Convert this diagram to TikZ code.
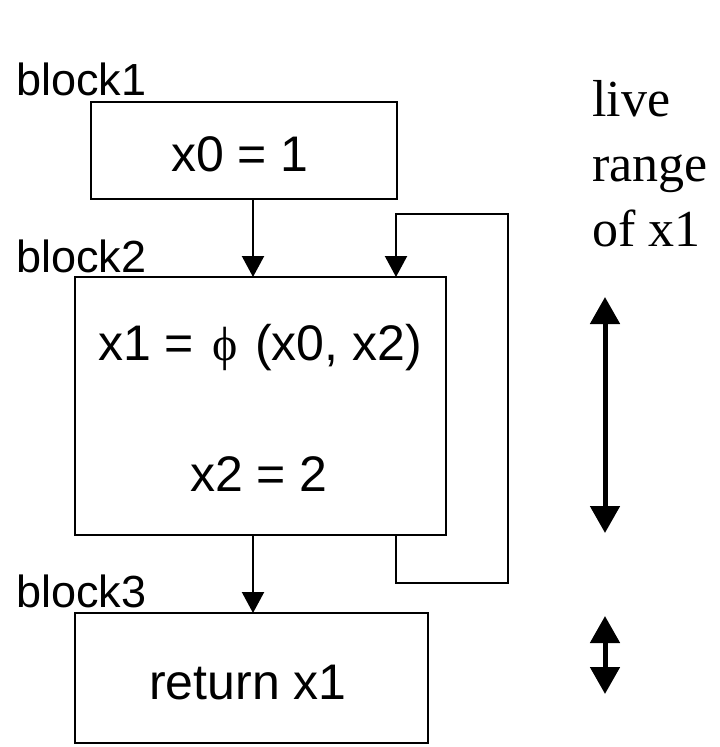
\documentclass[tikz,border=0pt]{standalone}
\usepackage{fontspec}
\setmainfont{Liberation Sans}
\newfontfamily\timesfont{Liberation Serif}
\usetikzlibrary{arrows.meta}
\begin{document}
\begin{tikzpicture}[x=1pt,y=-1pt,
  box/.style={draw, line width=2.2pt, inner sep=0pt, outer sep=0pt},
  lbl/.style={font=\fontsize{45}{50}\selectfont, inner sep=0pt, anchor=base west},
  code/.style={font=\fontsize{50}{56}\selectfont, inner sep=0pt, anchor=base},
  note/.style={font=\timesfont\fontsize{52}{65}\selectfont, inner sep=0pt, anchor=base west},
  flow/.style={line width=2.2pt, -{Triangle[width=22pt,length=21pt]}},
  livearrow/.style={line width=5pt, {Triangle[width=29pt,length=27pt]}-{Triangle[width=29pt,length=27pt]}}]
\useasboundingbox (0,0) rectangle (720,747);
% blocks
\node[box, minimum width=306pt, minimum height=97pt] (b1) at (244,150.5) {};
\node[box, minimum width=371pt, minimum height=258pt] (b2) at (260.5,406) {};
\node[box, minimum width=353pt, minimum height=130pt] (b3) at (251.5,678) {};
% block texts
\node[code] (t1) at (240,171) {x0 = 1};
\node[code] (t2) at (260,360) {x1 =\ \hspace{5pt}{\timesfont\fontsize{48}{50}\selectfont ϕ}\ \hspace{3pt}(x0, x2)};
\node[code] (t3) at (259,491) {x2 = 2};
\node[code] (t4) at (248,699) {return x1};
% labels
\node[lbl] (l1) at (16,95) {block1};
\node[lbl] (l2) at (16,272) {block2};
\node[lbl] (l3) at (16,607) {block3};
\node[note] (n1) at (592,116) {live};
\node[note] (n2) at (592,181) {range};
\node[note] (n3) at (592,246) {of x1};
% connectors
\coordinate (ax) at (253,0);
\coordinate (lx) at (396,0);
\draw[flow] (b1.south -| ax) -- (b2.north -| ax);
\draw[flow] (b2.south -| ax) -- (b3.north -| ax);
\coordinate (lp1) at (396,583);
\coordinate (lp2) at (508,583);
\coordinate (lp3) at (508,214);
\coordinate (lp4) at (396,214);
\draw[flow] (b2.south -| lx) -- (lp1) -- (lp2) -- (lp3) -- (lp4) -- (b2.north -| lx);
% live range arrows
\coordinate (r1a) at (605,297);
\coordinate (r1b) at (605,533);
\coordinate (r2a) at (605,616);
\coordinate (r2b) at (605,694);
\draw[livearrow] (r1a) -- (r1b);
\draw[livearrow] (r2a) -- (r2b);
\end{tikzpicture}
\end{document}
